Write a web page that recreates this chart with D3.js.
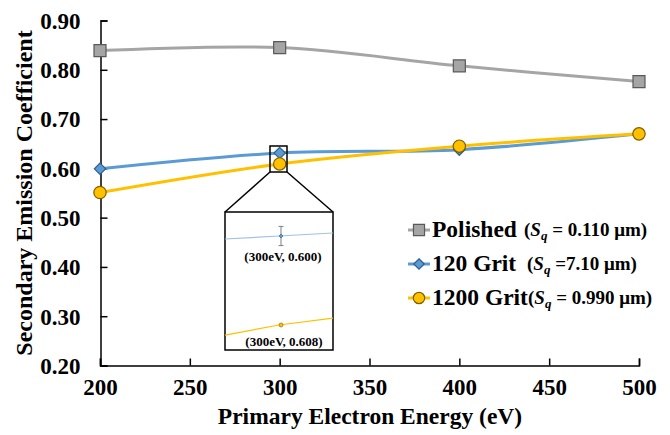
<!DOCTYPE html>
<html><head><meta charset="utf-8">
<script src="https://cdn.jsdelivr.net/npm/d3@7"></script>
<style>
body{margin:0;background:#fff;}
text{font-family:"Liberation Serif","Times New Roman",serif;font-weight:bold;fill:#000;}
</style></head>
<body><svg id="c" width="670" height="435"></svg>
<script>
const energies = [200, 300, 400, 500];
const polished = [0.839, 0.845, 0.808, 0.776];
const grit120 = [0.599, 0.631, 0.638, 0.670];
const grit1200 = [0.551, 0.609, 0.645, 0.670];
const xTicks = [200, 250, 300, 350, 400, 450, 500];
const yTicks = [0.20, 0.30, 0.40, 0.50, 0.60, 0.70, 0.80, 0.90];
const seriesNames = ["Polished", "120 Grit", "1200 Grit"];
const sqValues = ["= 0.110 μm)", "=7.10 μm)", "= 0.990 μm)"];
// inset (magnified view around 300 eV)
const insetEnergies = [290, 300, 310];
const insetBlue = [0.59875, 0.600, 0.60125];
const insetBlueErr = 0.004;
const insetOrange = [0.6038, 0.608, 0.6109];
const insetLabels = ["(300eV, 0.600)", "(300eV, 0.608)"];

const svg = d3.select("#c");
const x = d3.scaleLinear().domain([200, 500]).range([100, 639]);
const y = d3.scaleLinear().domain([0.20, 0.90]).range([365.5, 20.5]);

// axes
const gx = svg.append("g").attr("transform", "translate(0,365.5)")
  .call(d3.axisBottom(x).tickValues(xTicks).tickSize(-7).tickSizeOuter(-7).tickPadding(14).tickFormat(d3.format("d")));
const gy = svg.append("g").attr("transform", "translate(100.5,0)")
  .call(d3.axisLeft(y).tickValues(yTicks).tickSize(-7).tickSizeOuter(-7).tickPadding(20).tickFormat(d3.format(".2f")));
[gx, gy].forEach(g => {
  g.selectAll("path,line").attr("stroke", "#000").attr("stroke-width", 1.5);
  g.selectAll("text").style("font-size", "23px").style("font-family", '"Liberation Serif",serif').style("font-weight", "bold").attr("fill", "#000");
});
gx.selectAll("text").attr("dy", "0.68em");
gy.selectAll("text").attr("dy", "0.34em");

svg.append("text").attr("x", 370).attr("y", 424).attr("text-anchor", "middle")
  .style("font-size", "23.5px").text("Primary Electron Energy (eV)");
svg.append("text").attr("transform", "translate(32,193) rotate(-90)").attr("text-anchor", "middle")
  .style("font-size", "24px").text("Secondary Emission Coefficient");

const diamond = {draw(ctx, size) { const s = Math.sqrt(size) / 2 * Math.SQRT2; ctx.moveTo(0, -s); ctx.lineTo(s, 0); ctx.lineTo(0, s); ctx.lineTo(-s, 0); ctx.closePath(); }};
const styles = [
  {line: "#A5A5A5", fill: "#A5A5A5", stroke: "#595959", shape: d3.symbolSquare, size: 144},
  {line: "#5B9BD5", fill: "#5B9BD5", stroke: "#2E5E8A", shape: diamond, size: 64},
  {line: "#FFC000", fill: "#FFC000", stroke: "#7F6000", shape: d3.symbolCircle, size: 120}
];
const allData = [polished, grit120, grit1200];
const line = d3.line().x((d, i) => x(energies[i])).y(d => y(d)).curve(d3.curveCatmullRom.alpha(0.5));

allData.forEach((vals, si) => {
  svg.append("path").datum(vals).attr("d", line).attr("fill", "none")
    .attr("stroke", styles[si].line).attr("stroke-width", 3);
});
allData.forEach((vals, si) => {
  svg.selectAll(null).data(vals).enter().append("path")
    .attr("d", d3.symbol().type(styles[si].shape).size(styles[si].size))
    .attr("transform", (d, i) => `translate(${x(energies[i])},${y(d)})`)
    .attr("fill", styles[si].fill).attr("stroke", styles[si].stroke).attr("stroke-width", 1.2);
});

// zoom box
const bx0 = 270, bx1 = 287, by0 = 146, by1 = 172;
const ix0 = 225, ix1 = 333, iy0 = 212, iy1 = 350;
svg.append("rect").attr("x", bx0).attr("y", by0).attr("width", bx1 - bx0).attr("height", by1 - by0)
  .attr("fill", "none").attr("stroke", "#000").attr("stroke-width", 1.5);
svg.append("line").attr("x1", bx0).attr("y1", by1).attr("x2", ix0).attr("y2", iy0).attr("stroke", "#000").attr("stroke-width", 1.5);
svg.append("line").attr("x1", bx1).attr("y1", by1).attr("x2", ix1).attr("y2", iy0).attr("stroke", "#000").attr("stroke-width", 1.5);
svg.append("rect").attr("x", ix0).attr("y", iy0).attr("width", ix1 - ix0).attr("height", iy1 - iy0)
  .attr("fill", "#fff").attr("stroke", "#000").attr("stroke-width", 1.5);

const ixs = d3.scaleLinear().domain([290, 310]).range([ix0, ix1]);
const iyTop = d3.scaleLinear().domain([0.590, 0.610]).range([260, 212]);
const iyBot = d3.scaleLinear().domain([0.598, 0.618]).range([349, 301]);
const il1 = d3.line().x((d, i) => ixs(insetEnergies[i])).y(d => iyTop(d));
const il2 = d3.line().x((d, i) => ixs(insetEnergies[i])).y(d => iyBot(d));
svg.append("path").datum(insetBlue).attr("d", il1).attr("fill", "none").attr("stroke", "#9DC3E6").attr("stroke-width", 1.2);
svg.append("path").datum(insetOrange).attr("d", il2).attr("fill", "none").attr("stroke", "#FFC000").attr("stroke-width", 1.2);
const cx = ixs(300) + 2;
svg.append("line").attr("x1", cx).attr("x2", cx).attr("y1", iyTop(0.600 + insetBlueErr)).attr("y2", iyTop(0.600 - insetBlueErr))
  .attr("stroke", "#7F7F7F").attr("stroke-width", 1);
[0.600 + insetBlueErr, 0.600 - insetBlueErr].forEach(v => {
  svg.append("line").attr("x1", cx - 2.5).attr("x2", cx + 2.5).attr("y1", iyTop(v)).attr("y2", iyTop(v)).attr("stroke", "#7F7F7F").attr("stroke-width", 1);
});
svg.append("path").attr("d", d3.symbol().type(diamond).size(8)).attr("transform", `translate(${cx},${iyTop(0.600)})`)
  .attr("fill", "#5B9BD5").attr("stroke", "#2E5E8A").attr("stroke-width", 0.6);
svg.append("circle").attr("cx", cx).attr("cy", iyBot(0.608)).attr("r", 2).attr("fill", "#FFC000").attr("stroke", "#7F6000").attr("stroke-width", 0.6);
svg.append("text").attr("x", 283).attr("y", 261).attr("text-anchor", "middle").style("font-size", "13px").text(insetLabels[0]);
svg.append("text").attr("x", 284).attr("y", 346).attr("text-anchor", "middle").style("font-size", "13px").text(insetLabels[1]);

// legend
const legY = [230, 264, 298];
const sqX = [524, 527, 528];
seriesNames.forEach((name, i) => {
  const g = svg.append("g");
  g.append("line").attr("x1", 408).attr("x2", 430).attr("y1", legY[i]).attr("y2", legY[i]).attr("stroke", styles[i].line).attr("stroke-width", 3);
  g.append("path").attr("d", d3.symbol().type(styles[i].shape).size(styles[i].size * 0.85))
    .attr("transform", `translate(419,${legY[i]})`).attr("fill", styles[i].fill).attr("stroke", styles[i].stroke).attr("stroke-width", 1.2);
  g.append("text").attr("x", 432).attr("y", legY[i] + 7).style("font-size", "23.5px").text(name);
  const t = g.append("text").attr("x", sqX[i]).attr("y", legY[i] + 6).style("font-size", "19px");
  t.append("tspan").text("(");
  t.append("tspan").style("font-style", "italic").text("S");
  t.append("tspan").style("font-style", "italic").style("font-size", "13px").attr("dy", 4).text("q");
  t.append("tspan").attr("dy", -4).text(" " + sqValues[i]);
});
</script></body></html>
